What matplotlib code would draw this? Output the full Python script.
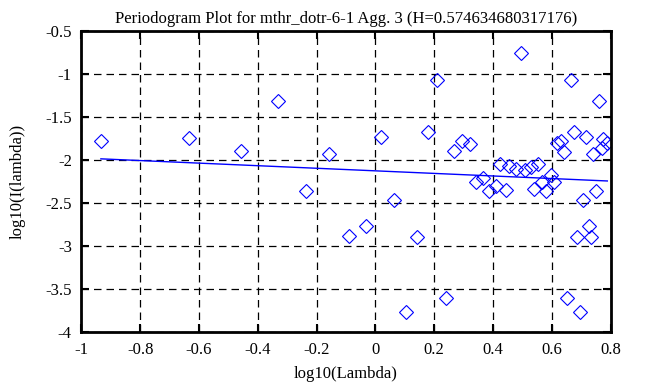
import numpy as np
import matplotlib
matplotlib.use("Agg")
import matplotlib.pyplot as plt

# periodogram points (log10 frequency, log10 power)
log_lambda = [
    -0.934, -0.633, -0.456, -0.332, -0.237, -0.157, -0.090, -0.033, 0.018,
    0.063, 0.105, 0.143, 0.178, 0.210, 0.239, 0.267, 0.295, 0.321, 0.341,
    0.365, 0.386, 0.410, 0.423, 0.444, 0.455, 0.480, 0.495, 0.508, 0.529,
    0.541, 0.554, 0.566, 0.580, 0.596, 0.608, 0.618, 0.632, 0.640, 0.651,
    0.665, 0.675, 0.685, 0.695, 0.705, 0.715, 0.726, 0.734, 0.741, 0.752,
    0.759, 0.770, 0.775, 0.789,
]
log_power = [
    -1.777, -1.750, -1.890, -1.314, -2.360, -1.930, -2.880, -2.770, -1.735,
    -2.460, -3.770, -2.900, -1.680, -1.069, -3.610, -1.900, -1.780, -1.810,
    -2.250, -2.210, -2.360, -2.300, -2.046, -2.350, -2.070, -2.100, -0.753,
    -2.120, -2.080, -2.340, -2.046, -2.260, -2.360, -2.180, -2.260, -1.800,
    -1.780, -1.910, -3.610, -1.072, -1.680, -2.900, -3.770, -2.460, -1.735,
    -2.770, -2.890, -1.930, -2.360, -1.314, -1.860, -1.754, -1.800,
]

H = 0.574634680317176
fit_slope = 1 - 2 * H
fit_intercept = -2.126

x_ticks = [-1, -0.8, -0.6, -0.4, -0.2, 0, 0.2, 0.4, 0.6, 0.8]
y_ticks = [-4, -3.5, -3, -2.5, -2, -1.5, -1, -0.5]

plt.rcParams["font.family"] = ["Liberation Serif", "DejaVu Serif"]
plt.rcParams["font.size"] = 12

fig = plt.figure(figsize=(6.68, 3.87), dpi=100)
ax = fig.add_axes([0.122, 0.142, 0.792, 0.778])

ax.plot(log_lambda, log_power, linestyle="none", marker="D", markersize=7.5,
        markerfacecolor="none", markeredgecolor="blue", markeredgewidth=0.8)

xs = np.array([min(log_lambda), max(log_lambda)])
ax.plot(xs, fit_intercept + fit_slope * xs, color="blue", linewidth=1)

ax.set_xlim(-1, 0.8)
ax.set_ylim(-4, -0.5)
ax.set_xticks(x_ticks)
ax.set_yticks(y_ticks)
ax.set_xticklabels([f"{v:g}" for v in x_ticks])
ax.set_yticklabels([f"{v:g}" for v in y_ticks])
ax.grid(True, color="black", linestyle=(0, (6, 4)), linewidth=0.9)
ax.tick_params(direction="in", length=6, width=1.5, top=True, right=True,
               pad=7)
for s in ax.spines.values():
    s.set_linewidth(2)

ax.set_title(f"Periodogram Plot for mthr_dotr-6-1 Agg. 3 (H={H})",
             fontsize=12, pad=6)
ax.set_xlabel("log10(Lambda)", labelpad=6)
ax.set_ylabel("log10(I(lambda))", labelpad=14)

fig.savefig("out.png", dpi=100)
